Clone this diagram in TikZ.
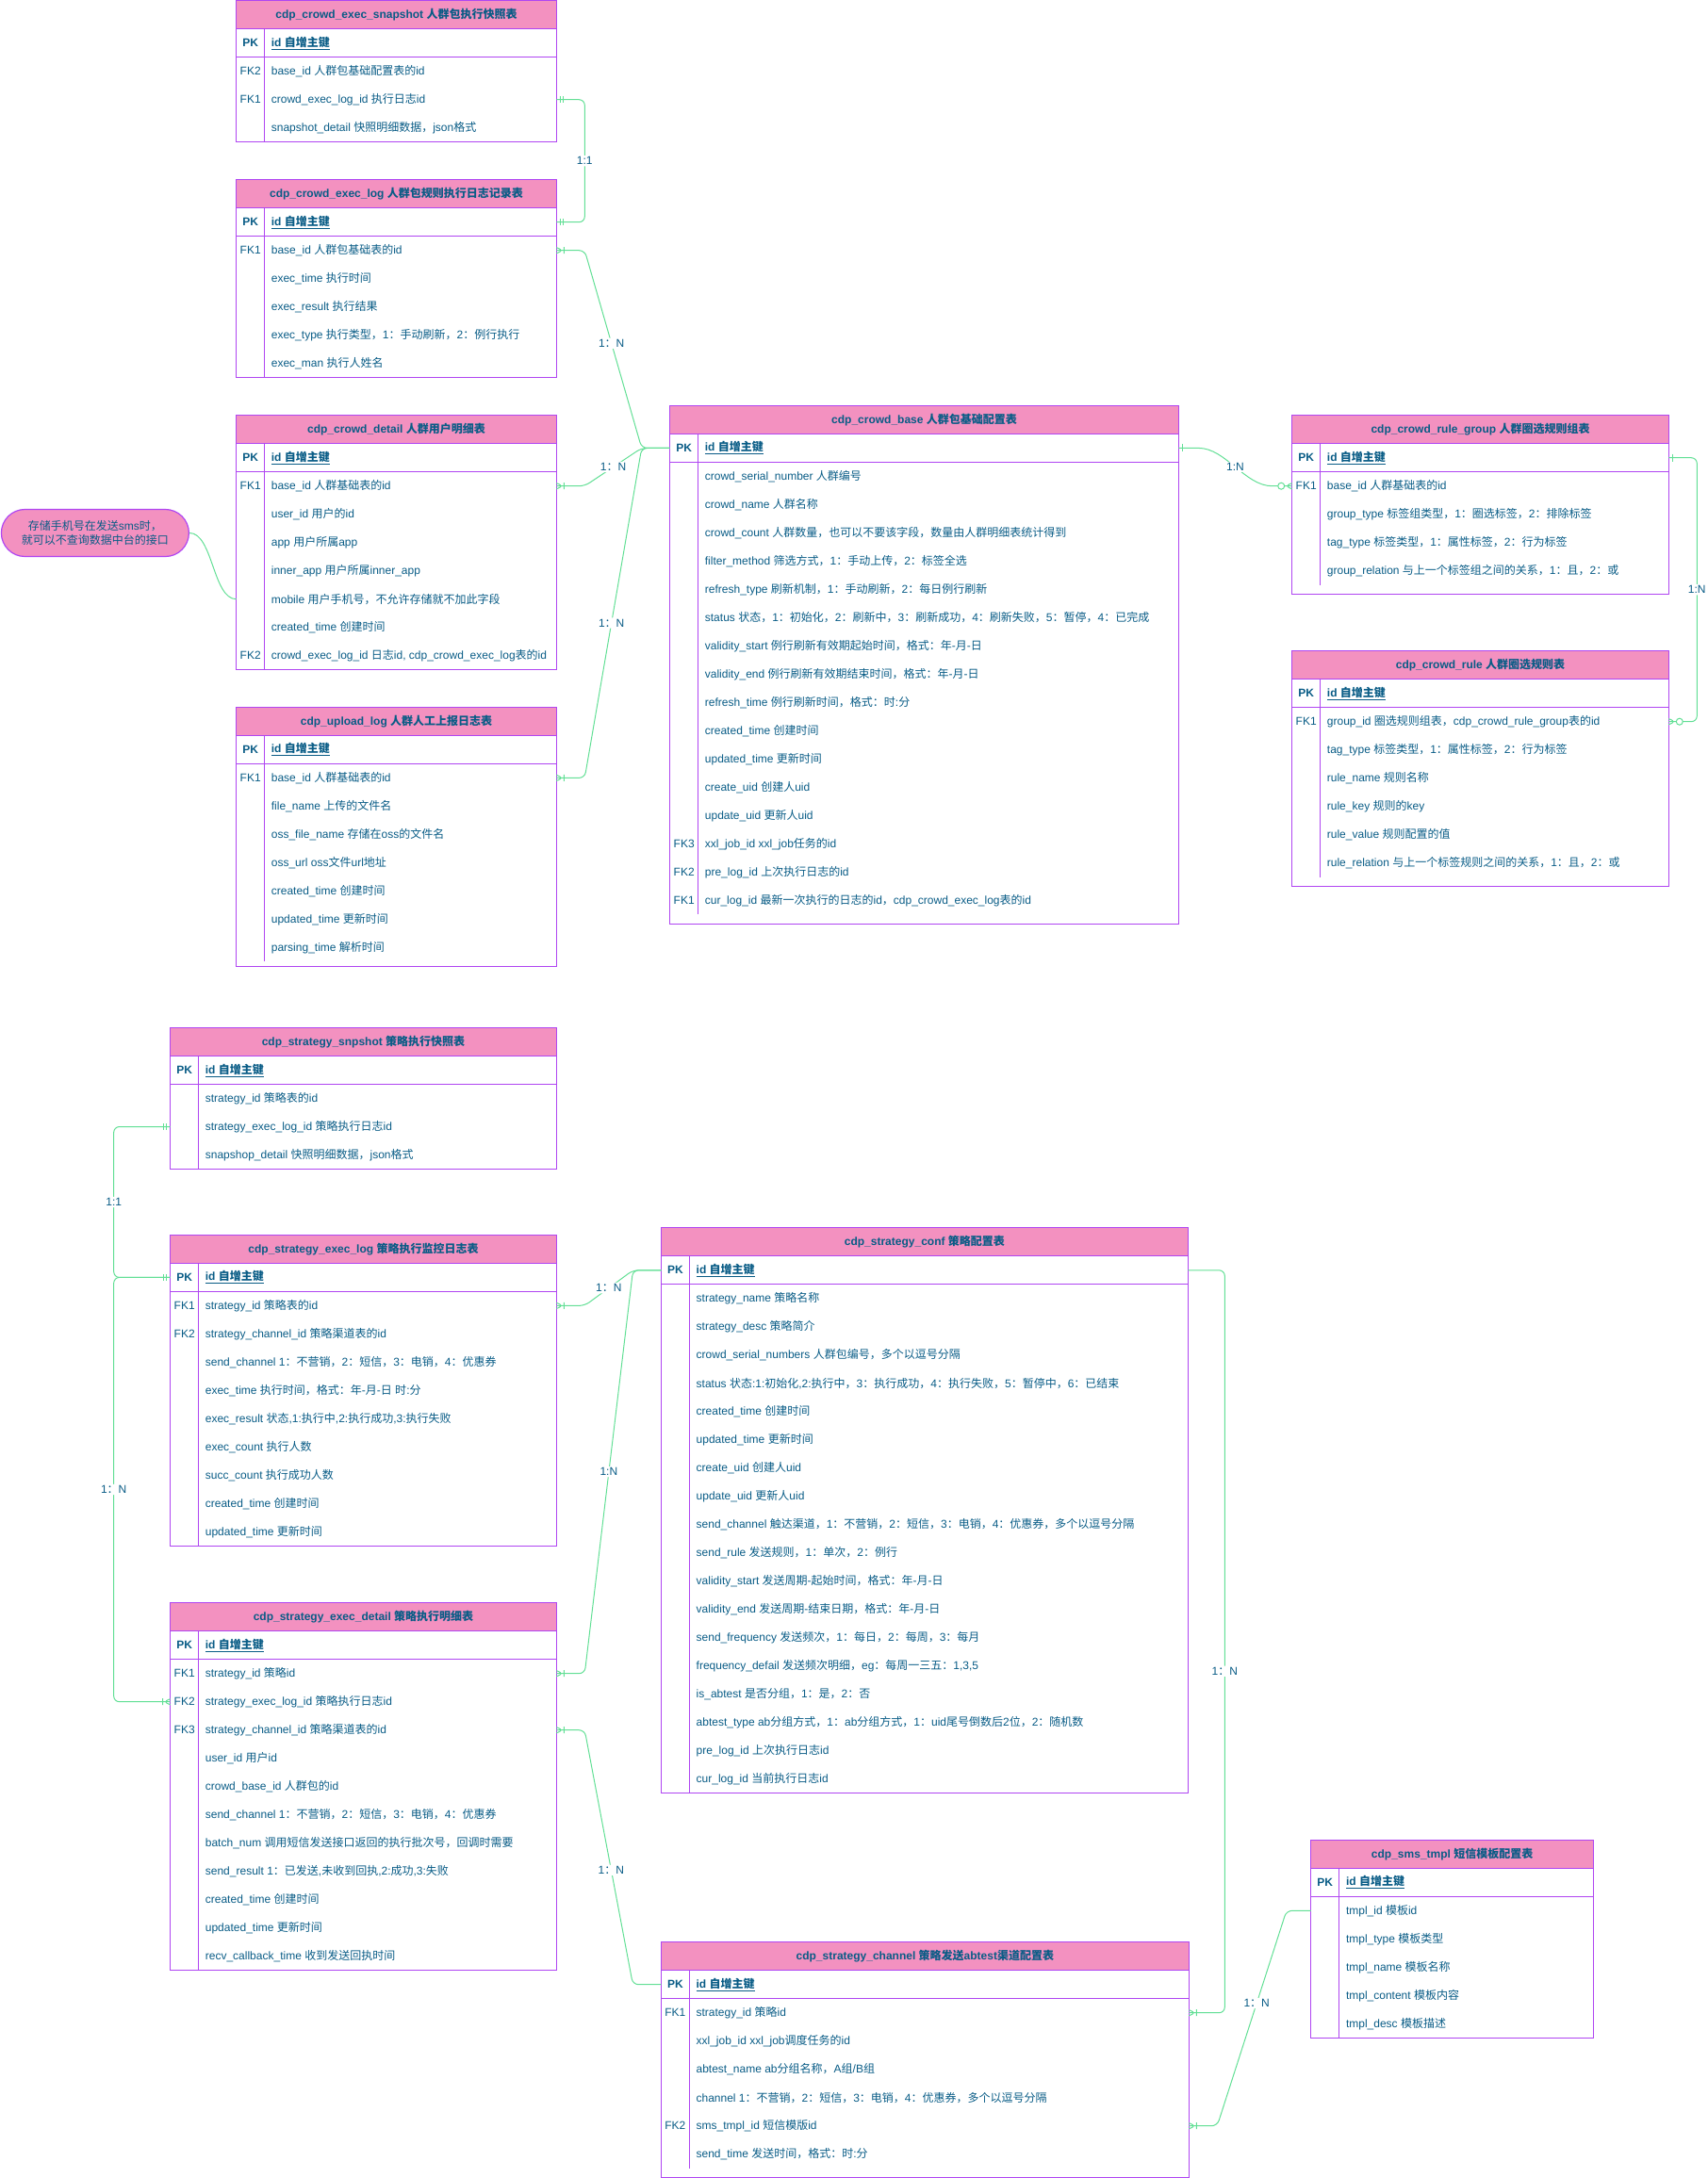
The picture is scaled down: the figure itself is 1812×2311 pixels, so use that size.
\documentclass[tikz,border=0pt]{standalone}
\usepackage{fontspec}
\setmainfont{Liberation Sans}
\newfontfamily\cjkfont{Noto Sans CJK SC}
\usetikzlibrary{calc}

% switch to the CJK font for Chinese characters and full-width punctuation
\XeTeXinterchartokenstate=1
\newXeTeXintercharclass\cjkclass
\count255="3000
\loop\XeTeXcharclass\count255=\cjkclass\advance\count255 by 1 \ifnum\count255<"3040 \repeat
\count255="4E00
\loop\XeTeXcharclass\count255=\cjkclass\advance\count255 by 1 \ifnum\count255<"A000 \repeat
\count255="FF00
\loop\XeTeXcharclass\count255=\cjkclass\advance\count255 by 1 \ifnum\count255<"FFF0 \repeat
\XeTeXinterchartoks 0 \cjkclass = {\begingroup\cjkfont}
\XeTeXinterchartoks 4095 \cjkclass = {\begingroup\cjkfont}
\XeTeXinterchartoks \cjkclass 0 = {\endgroup}
\XeTeXinterchartoks \cjkclass 4095 = {\endgroup}

\definecolor{ertext}{HTML}{095C86}
\definecolor{erpink}{HTML}{F391C0}
\definecolor{erpurple}{HTML}{B046F2}
\definecolor{ergreen}{HTML}{62DF95}

\newcommand{\erfont}{\fontsize{12}{14.4}\selectfont}

\tikzset{
  erhead/.style={draw=erpurple, line width=1.2pt, fill=erpink, minimum height=30, inner sep=0, outer sep=0,
    text=ertext, font=\erfont\bfseries},
  errow/.style={minimum height=30, inner sep=0, outer sep=0},
  erkey/.style={text=ertext, font=\erfont, inner sep=0},
  erfield/.style={anchor=west, text=ertext, font=\erfont, inner sep=0},
  erborder/.style={draw=erpurple, line width=1.2pt},
  erconn/.style={draw=ergreen, line width=1pt, rounded corners=6pt},
  erlabel/.style={fill=white, text=ertext, font=\erfont, inner sep=1.5pt},
  ernote/.style={draw=erpurple, line width=1.2pt, fill=erpink, rounded corners=25pt, minimum width=199,
    minimum height=50, align=center, text=ertext, font=\erfont},
  mandone/.pic={\draw[erconn] (4,-3.5) -- (4,3.5) (7.5,-3.5) -- (7.5,3.5);},
  onemany/.pic={\draw[erconn] (0,-3) -- (8,0) -- (0,3) (8,-3.5) -- (8,3.5);},
  zeromany/.pic={\draw[erconn] (0,-3) -- (8,0) -- (0,3); \draw[erconn,fill=white] (11.5,0) circle (3.5);},
  erone/.pic={\draw[erconn] (4,-4) -- (4,4);},
}

% #1 name, #2 x, #3 top, #4 width, #5 title, #6 fields, #7 bottom padding, #8 key/field list
\newcommand{\ertable}[8]{%
  \node[erhead, minimum width=#4, anchor=north west] (#1) at (#2,#3) {#5};
  \node[errow, minimum width=#4, anchor=north west] (#1-pk) at (#2,#3+30) {};
  \node[erkey, font=\erfont\bfseries] at (#2+15,#3+45) {PK};
  \node[erfield] at (#2+37,#3+45) {\bfseries\underline{id 自增主键}};
  \foreach \fkey/\fname [count=\i] in {#8} {
    \node[errow, minimum width=#4, anchor=north west] (#1-\i) at (#2,#3+30+30*\i) {};
    \node[erkey] at (#2+15,#3+45+30*\i) {\fkey};
    \node[erfield] at (#2+37,#3+45+30*\i) {\fname};
  }
  \draw[erborder] (#2,#3+60) -- ++(#4,0);
  \draw[erborder] (#2+30,#3+30) -- ++(0,30+30*#6);
  \draw[erborder] (#2,#3) rectangle ++(#4,60+30*#6+#7);
}

\begin{document}
\begin{tikzpicture}[x=1pt,y=-1pt]
  \useasboundingbox (0,0) rectangle (1812,2311);

  % crowd tables
  \ertable{ces}{250.7}{0.7}{339.6}{cdp\_crowd\_exec\_snapshot 人群包执行快照表}{3}{0}{%
{FK2}/{base\_id 人群包基础配置表的id},%
{FK1}/{crowd\_exec\_log\_id 执行日志id},%
{}/{snapshot\_detail 快照明细数据，json格式}}
  \ertable{cel}{250.7}{190.7}{339.6}{cdp\_crowd\_exec\_log 人群包规则执行日志记录表}{5}{0}{%
{FK1}/{base\_id 人群包基础表的id},%
{}/{exec\_time 执行时间},%
{}/{exec\_result 执行结果},%
{}/{exec\_type 执行类型，1：手动刷新，2：例行执行},%
{}/{exec\_man 执行人姓名}}
  \ertable{cd}{250.7}{440.7}{339.6}{cdp\_crowd\_detail 人群用户明细表}{7}{0}{%
{FK1}/{base\_id 人群基础表的id},%
{}/{user\_id 用户的id},%
{}/{app 用户所属app},%
{}/{inner\_app 用户所属inner\_app},%
{}/{mobile 用户手机号，不允许存储就不加此字段},%
{}/{created\_time 创建时间},%
{FK2}/{crowd\_exec\_log\_id 日志id, cdp\_crowd\_exec\_log表的id}}
  \ertable{ul}{250.7}{750.4}{339.6}{cdp\_upload\_log 人群人工上报日志表}{7}{5}{%
{FK1}/{base\_id 人群基础表的id},%
{}/{file\_name 上传的文件名},%
{}/{oss\_file\_name 存储在oss的文件名},%
{}/{oss\_url oss文件url地址},%
{}/{created\_time 创建时间},%
{}/{updated\_time 更新时间},%
{}/{parsing\_time 解析时间}}
  \ertable{cb}{710.7}{430.4}{539.7}{cdp\_crowd\_base 人群包基础配置表}{16}{10}{%
{}/{crowd\_serial\_number 人群编号},%
{}/{crowd\_name 人群名称},%
{}/{crowd\_count 人群数量，也可以不要该字段，数量由人群明细表统计得到},%
{}/{filter\_method 筛选方式，1：手动上传，2：标签全选},%
{}/{refresh\_type 刷新机制，1：手动刷新，2：每日例行刷新},%
{}/{status 状态，1：初始化，2：刷新中，3：刷新成功，4：刷新失败，5：暂停，4：已完成},%
{}/{validity\_start 例行刷新有效期起始时间，格式：年-月-日},%
{}/{validity\_end 例行刷新有效期结束时间，格式：年-月-日},%
{}/{refresh\_time 例行刷新时间，格式：时:分},%
{}/{created\_time 创建时间},%
{}/{updated\_time 更新时间},%
{}/{create\_uid 创建人uid},%
{}/{update\_uid 更新人uid},%
{FK3}/{xxl\_job\_id xxl\_job任务的id},%
{FK2}/{pre\_log\_id 上次执行日志的id},%
{FK1}/{cur\_log\_id 最新一次执行的日志的id，cdp\_crowd\_exec\_log表的id}}
  \ertable{crg}{1370.7}{440.7}{399.6}{cdp\_crowd\_rule\_group 人群圈选规则组表}{4}{10}{%
{FK1}/{base\_id 人群基础表的id},%
{}/{group\_type 标签组类型，1：圈选标签，2：排除标签},%
{}/{tag\_type 标签类型，1：属性标签，2：行为标签},%
{}/{group\_relation 与上一个标签组之间的关系，1：且，2：或}}
  \ertable{cr}{1370.7}{690.7}{399.6}{cdp\_crowd\_rule 人群圈选规则表}{6}{10}{%
{FK1}/{group\_id 圈选规则组表，cdp\_crowd\_rule\_group表的id},%
{}/{tag\_type 标签类型，1：属性标签，2：行为标签},%
{}/{rule\_name 规则名称},%
{}/{rule\_key 规则的key},%
{}/{rule\_value 规则配置的值},%
{}/{rule\_relation 与上一个标签规则之间的关系，1：且，2：或}}

  \node[ernote] (note) at (100.9,565.5) {存储手机号在发送sms时，\\就可以不查询数据中台的接口};

  % strategy tables
  \ertable{ss}{180.7}{1090.5}{409.6}{cdp\_strategy\_snpshot 策略执行快照表}{3}{0}{%
{}/{strategy\_id 策略表的id},%
{}/{strategy\_exec\_log\_id 策略执行日志id},%
{}/{snapshop\_detail 快照明细数据，json格式}}
  \ertable{sel}{180.7}{1310.4}{409.6}{cdp\_strategy\_exec\_log 策略执行监控日志表}{9}{0}{%
{FK1}/{strategy\_id 策略表的id},%
{FK2}/{strategy\_channel\_id 策略渠道表的id},%
{}/{send\_channel 1：不营销，2：短信，3：电销，4：优惠券},%
{}/{exec\_time 执行时间，格式：年-月-日 时:分},%
{}/{exec\_result 状态,1:执行中,2:执行成功,3:执行失败},%
{}/{exec\_count 执行人数},%
{}/{succ\_count 执行成功人数},%
{}/{created\_time 创建时间},%
{}/{updated\_time 更新时间}}
  \ertable{sed}{180.7}{1700.7}{409.6}{cdp\_strategy\_exec\_detail 策略执行明细表}{11}{0}{%
{FK1}/{strategy\_id 策略id},%
{FK2}/{strategy\_exec\_log\_id 策略执行日志id},%
{FK3}/{strategy\_channel\_id 策略渠道表的id},%
{}/{user\_id 用户id},%
{}/{crowd\_base\_id 人群包的id},%
{}/{send\_channel 1：不营销，2：短信，3：电销，4：优惠券},%
{}/{batch\_num 调用短信发送接口返回的执行批次号，回调时需要},%
{}/{send\_result 1：已发送,未收到回执,2:成功,3:失败},%
{}/{created\_time 创建时间},%
{}/{updated\_time 更新时间},%
{}/{recv\_callback\_time 收到发送回执时间}}
  \ertable{sc}{701.5}{1302.8}{558.8}{cdp\_strategy\_conf 策略配置表}{18}{0}{%
{}/{strategy\_name 策略名称},%
{}/{strategy\_desc 策略简介},%
{}/{crowd\_serial\_numbers 人群包编号，多个以逗号分隔},%
{}/{status 状态:1:初始化,2:执行中，3：执行成功，4：执行失败，5：暂停中，6：已结束},%
{}/{created\_time 创建时间},%
{}/{updated\_time 更新时间},%
{}/{create\_uid 创建人uid},%
{}/{update\_uid 更新人uid},%
{}/{send\_channel 触达渠道，1：不营销，2：短信，3：电销，4：优惠券，多个以逗号分隔},%
{}/{send\_rule 发送规则，1：单次，2：例行},%
{}/{validity\_start 发送周期-起始时间，格式：年-月-日},%
{}/{validity\_end 发送周期-结束日期，格式：年-月-日},%
{}/{send\_frequency 发送频次，1：每日，2：每周，3：每月},%
{}/{frequency\_defail 发送频次明细，eg：每周一三五：1,3,5},%
{}/{is\_abtest 是否分组，1：是，2：否},%
{}/{abtest\_type ab分组方式，1：ab分组方式，1：uid尾号倒数后2位，2：随机数},%
{}/{pre\_log\_id 上次执行日志id},%
{}/{cur\_log\_id 当前执行日志id}}
  \ertable{sch}{701.4}{2060.7}{559.9}{cdp\_strategy\_channel 策略发送abtest渠道配置表}{6}{10}{%
{FK1}/{strategy\_id 策略id},%
{}/{xxl\_job\_id xxl\_job调度任务的id},%
{}/{abtest\_name ab分组名称，A组/B组},%
{}/{channel 1：不营销，2：短信，3：电销，4：优惠券，多个以逗号分隔},%
{FK2}/{sms\_tmpl\_id 短信模版id},%
{}/{send\_time 发送时间，格式：时:分}}
  \ertable{st}{1390.8}{1952.3}{299.7}{cdp\_sms\_tmpl 短信模板配置表}{5}{0}{%
{}/{tmpl\_id 模板id},%
{}/{tmpl\_type 模板类型},%
{}/{tmpl\_name 模板名称},%
{}/{tmpl\_content 模板内容},%
{}/{tmpl\_desc 模板描述}}

  % crowd relations
  \draw[erconn] (ces-2.east) -- ++(30,0) |- node[erlabel,pos=.25] {1:1} (cel-pk.east);
  \pic at (ces-2.east) {mandone};
  \pic at (cel-pk.east) {mandone};
  \draw[erconn] (cel-1.east) -- ++(30,0) -- node[erlabel,pos=.47] {1：N} ($(cb-pk.west)+(-30,0)$) -- (cb-pk.west);
  \pic at (cel-1.east) {onemany};
  \draw[erconn] (cd-1.east) -- ++(30,0) -- node[erlabel] {1：N} ($(cb-pk.west)+(-30,0)$) -- (cb-pk.west);
  \pic at (cd-1.east) {onemany};
  \draw[erconn] (ul-1.east) -- ++(30,0) -- node[erlabel,pos=.47] {1：N} ($(cb-pk.west)+(-30,0)$) -- (cb-pk.west);
  \pic at (ul-1.east) {onemany};
  \draw[erconn] (cb-pk.east) -- ++(15,0) .. controls +(35,0) and +(-35,0) .. node[erlabel] {1:N} ($(crg-1.west)+(-15,0)$) -- (crg-1.west);
  \pic at (cb-pk.east) {erone};
  \pic[xscale=-1] at (crg-1.west) {zeromany};
  \draw[erconn] (crg-pk.east) -- ++(30,0) |- node[erlabel,pos=.25] {1:N} (cr-1.east);
  \pic at (crg-pk.east) {erone};
  \pic at (cr-1.east) {zeromany};
  \draw[erconn] (note.east) .. controls +(25,0) and +(-25,0) .. (cd-5.west);

  % strategy relations
  \draw[erconn] (ss-2.west) -- ++(-60,0) |- node[erlabel,pos=.25] {1:1} (sel-pk.west);
  \draw[erconn] (sel-pk.west) -- ++(-60,0) |- node[erlabel,pos=.25] {1：N} (sed-2.west);
  \pic[xscale=-1] at (ss-2.west) {mandone};
  \pic[xscale=-1] at (sel-pk.west) {mandone};
  \pic[xscale=-1] at (sed-2.west) {onemany};
  \draw[erconn] (sel-1.east) -- ++(30,0) -- node[erlabel] {1：N} ($(sc-pk.west)+(-30,0)$) -- (sc-pk.west);
  \pic at (sel-1.east) {onemany};
  \draw[erconn] (sed-1.east) -- ++(30,0) -- node[erlabel] {1:N} ($(sc-pk.west)+(-30,0)$) -- (sc-pk.west);
  \pic at (sed-1.east) {onemany};
  \draw[erconn] (sed-3.east) -- ++(30,0) -- node[erlabel,pos=.55] {1：N} ($(sch-pk.west)+(-30,0)$) -- (sch-pk.west);
  \pic at (sed-3.east) {onemany};
  \draw[erconn] (sc-pk.east) -- ++(39,0) |- node[erlabel,pos=.27] {1：N} (sch-1.east);
  \pic at (sch-1.east) {onemany};
  \draw[erconn] (st-1.west) -- ++(-26,0) -- node[erlabel,pos=.43] {1：N} ($(sch-5.east)+(30,0)$) -- (sch-5.east);
  \pic at (sch-5.east) {onemany};
\end{tikzpicture}
\end{document}
